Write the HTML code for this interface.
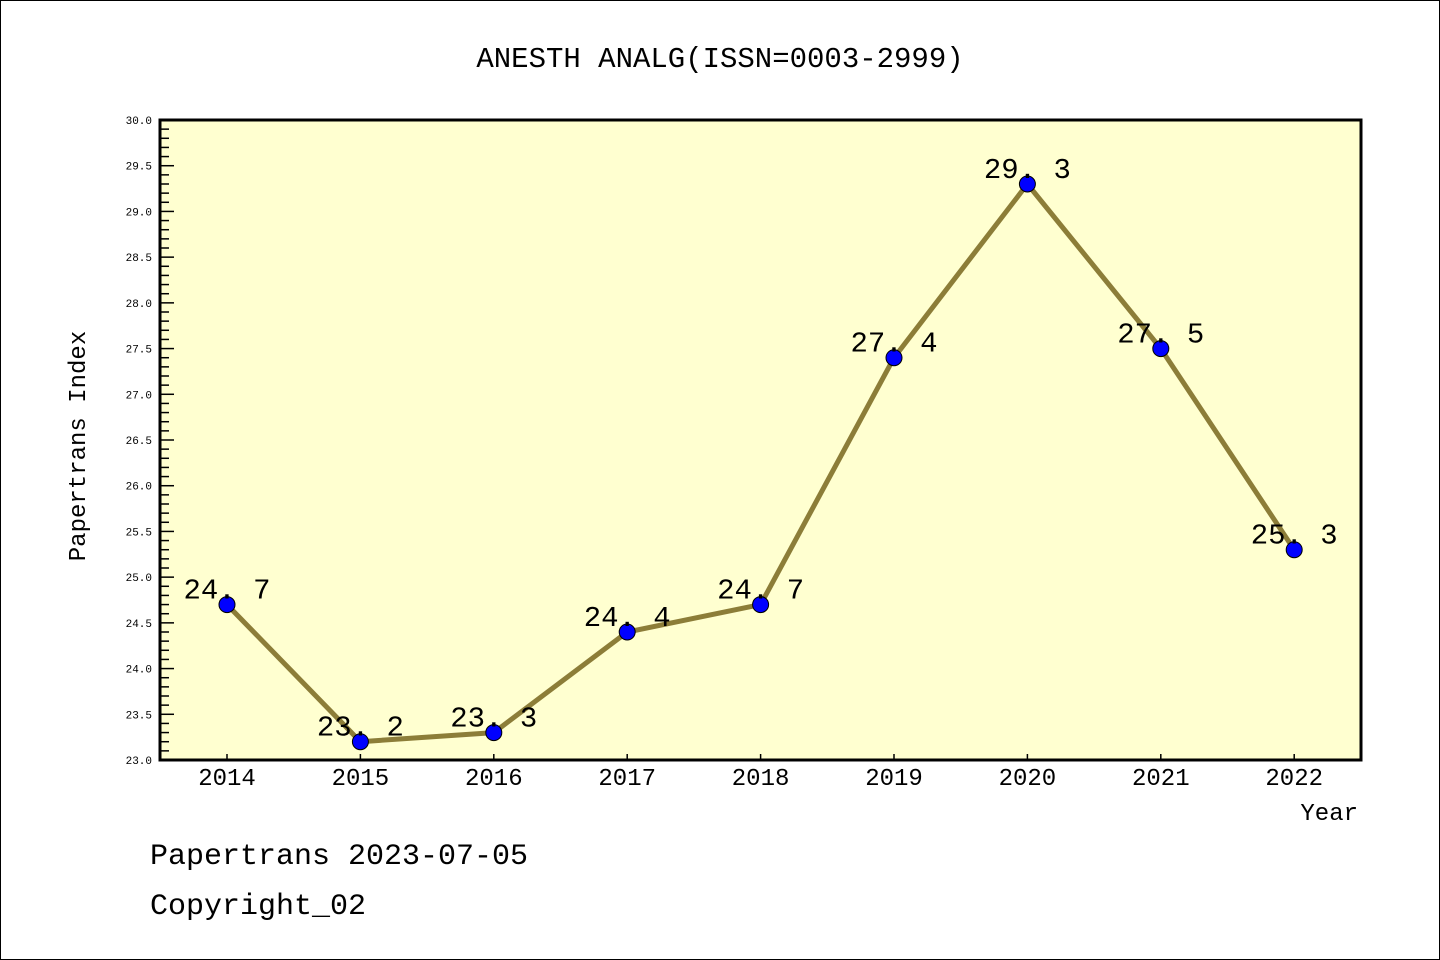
<!DOCTYPE html>
<html><head><meta charset="utf-8"><style>
html,body{margin:0;padding:0;background:#fff}
svg{display:block}
text{font-family:"Liberation Mono","DejaVu Sans Mono",monospace}
</style></head><body>
<svg id="chart" width="1440" height="960" xmlns="http://www.w3.org/2000/svg">
<rect x="0.5" y="0.5" width="1439" height="959" fill="#fff" stroke="#000" stroke-width="1"/>
<text x="720" y="67" text-anchor="middle" font-size="29">ANESTH ANALG(ISSN=0003-2999)</text>
<rect x="160" y="120" width="1201" height="640" fill="#ffffd0"/>
<g id="yticks"></g><g id="xticks"></g>
<rect x="160" y="120" width="1201" height="640" fill="none" stroke="#000" stroke-width="3"/>
<g id="series"></g>
<text transform="translate(85,446) rotate(-90)" text-anchor="middle" font-size="24">Papertrans Index</text>
<text x="1358" y="820" text-anchor="end" font-size="24">Year</text>
<text x="150" y="864" font-size="30">Papertrans 2023-07-05</text>
<text x="150" y="914" font-size="30">Copyright_02</text>
</svg>
<script>
const years = ["2014","2015","2016","2017","2018","2019","2020","2021","2022"];
const values = [24.7,23.2,23.3,24.4,24.7,27.4,29.3,27.5,25.3];
const yTickLabels = ["23.0","23.5","24.0","24.5","25.0","25.5","26.0","26.5","27.0","27.5","28.0","28.5","29.0","29.5","30.0"];
(function(){
const NS="http://www.w3.org/2000/svg";
const yMin=23,yMax=30,plotTop=120,plotBot=760,plotLeft=160;
function yScale(v){return plotBot-(v-yMin)/(yMax-yMin)*(plotBot-plotTop);}
function xScale(i){return 227+i*133.4;}
function mk(tag,attrs,parent){const e=document.createElementNS(NS,tag);for(const k in attrs)e.setAttribute(k,attrs[k]);parent.appendChild(e);return e;}
const yt=document.getElementById('yticks');
for(let k=0;k<=70;k++){
  const v=yMin+k*0.1,y=yScale(v),major=k%5===0;
  const t=mk('line',{x1:plotLeft,x2:plotLeft+(major?14:9),y1:y,y2:y,stroke:'#000','stroke-width':1.5},yt);
  
  
}
yTickLabels.forEach(l=>{
  const t=mk('text',{x:152,y:yScale(parseFloat(l))+4,'text-anchor':'end','font-size':11,'font-family':'"DejaVu Sans",sans-serif'},yt);
  t.textContent=l;
  
  
});
const xt=document.getElementById('xticks');
years.forEach((yr,i)=>{
  const x=xScale(i);
  const t=mk('line',{x1:x,x2:x,y1:plotBot,y2:plotBot-6,stroke:'#000','stroke-width':1.5},xt);
  
  
  const l=mk('text',{x:x,y:785,'text-anchor':'middle','font-size':24},xt);
  l.textContent=yr;
  
  
});
const sg=document.getElementById('series');
const line=mk('polyline',{points:values.map((v,i)=>xScale(i)+','+yScale(v)).join(' '),fill:'none',stroke:'#8c7d38','stroke-width':5,'stroke-linejoin':'round'},sg);


values.forEach((v,i)=>{
  const c=mk('circle',{cx:xScale(i),cy:yScale(v),r:8,fill:'#0000ff',stroke:'#000','stroke-width':1},sg);
  
  
  const l=mk('text',{x:xScale(i),y:yScale(v)-6,'text-anchor':'middle','font-size':29},sg);
  l.textContent=v.toFixed(1).replace('.','. ');
  
  
});
})();
</script>
</body></html>
